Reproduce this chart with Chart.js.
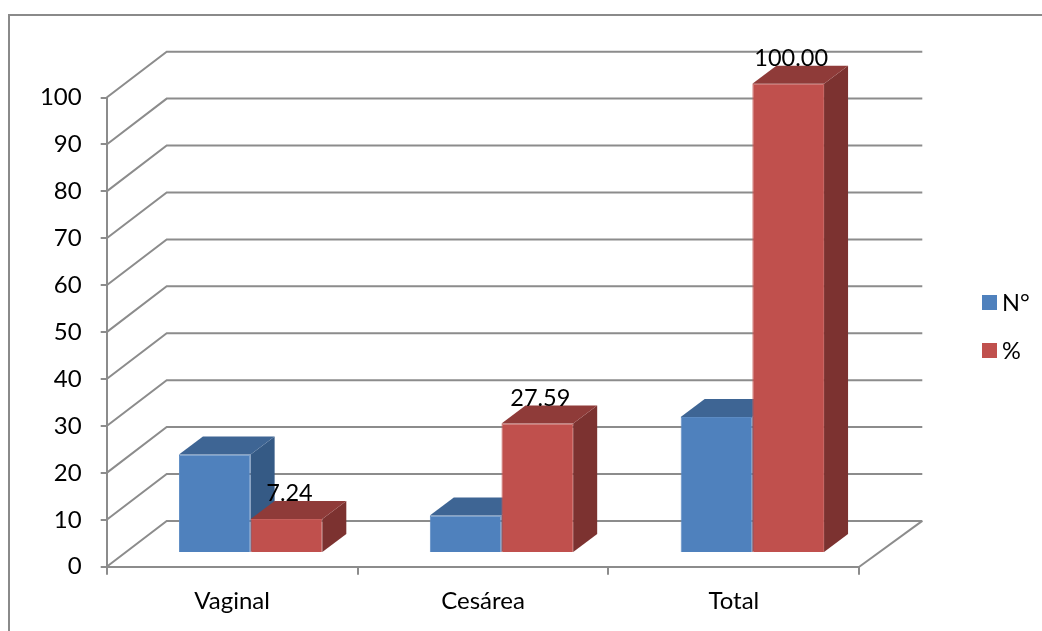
<!DOCTYPE html>
<html>
<head>
<meta charset="utf-8">
<style>
  html, body { margin: 0; padding: 0; background: #fff; }
  #wrap { width: 1042px; height: 631px; }
</style>
<script src="https://cdn.jsdelivr.net/npm/chart.js@4"></script>
</head>
<body>
<div id="wrap"><canvas id="chart"></canvas></div>
<script>
const categories = ["Vaginal", "Cesárea", "Total"];
const seriesNames = ["N°", "%"];
const nValues = [21, 8, 29];
const pctValues = [7.24, 27.59, 100];
const pctLabels = ["7.24", "27.59", "100.00"];

const FONT = "Lato, 'Open Sans', sans-serif";
const GRID = "#8c8c8c";

// 3d look: bars sit inside the box, wall is further back
const BAR_DX = 18.5, BAR_DY = -13.7;
const SIDE_DX = 24, SIDE_DY = -18;
const WALL_DX = 60, WALL_DY = -45.8;

const shades = [
  { side: "#355A85", top: "#3E6594" },
  { side: "#7C3230", top: "#8F3B39" }
];

const box3d = {
  id: "box3d",
  beforeDraw(chart) {
    const { ctx } = chart;
    ctx.save();
    ctx.strokeStyle = "#8a8a8a";
    ctx.lineWidth = 2;
    ctx.beginPath();
    ctx.moveTo(9, 631);
    ctx.lineTo(9, 15);
    ctx.lineTo(1042, 15);
    ctx.stroke();
    ctx.restore();
  },
  beforeDatasetsDraw(chart) {
    const { ctx, chartArea: a, scales: { y } } = chart;
    ctx.save();
    ctx.strokeStyle = GRID;
    ctx.lineWidth = 2;
    y.ticks.forEach((t) => {
      const py = y.getPixelForValue(t.value);
      ctx.beginPath();
      ctx.moveTo(a.left, py);
      ctx.lineTo(a.left + WALL_DX, py + WALL_DY);
      ctx.lineTo(a.right + WALL_DX + 3, py + WALL_DY);
      ctx.stroke();
    });
    const y0 = y.getPixelForValue(0);
    ctx.beginPath();
    ctx.moveTo(a.right, y0);
    ctx.lineTo(a.right + WALL_DX + 3, y0 + WALL_DY);
    ctx.stroke();
    ctx.restore();
  },
  // the library paints the right-hand series first, here the left one has to go under it
  beforeDatasetDraw() {
    return false;
  },
  afterDatasetsDraw(chart) {
    const { ctx } = chart;
    ctx.save();
    ctx.translate(BAR_DX, BAR_DY);
    [0, 1].forEach((idx) => {
      const c = shades[idx];
      chart.getDatasetMeta(idx).data.forEach((bar) => {
        bar.draw(ctx);
        const l = bar.x - bar.width / 2, r = bar.x + bar.width / 2;
        ctx.fillStyle = c.side;
        ctx.beginPath();
        ctx.moveTo(r, bar.y);
        ctx.lineTo(r + SIDE_DX, bar.y + SIDE_DY);
        ctx.lineTo(r + SIDE_DX, bar.base + SIDE_DY);
        ctx.lineTo(r, bar.base);
        ctx.closePath();
        ctx.fill();
        ctx.fillStyle = c.top;
        ctx.beginPath();
        ctx.moveTo(l, bar.y);
        ctx.lineTo(l + SIDE_DX, bar.y + SIDE_DY);
        ctx.lineTo(r + SIDE_DX, bar.y + SIDE_DY);
        ctx.lineTo(r, bar.y);
        ctx.closePath();
        ctx.fill();
      });
    });
    ctx.restore();

    ctx.save();
    ctx.font = "23.5px " + FONT;
    ctx.fillStyle = "#000";
    ctx.textAlign = "center";
    ctx.textBaseline = "alphabetic";
    chart.getDatasetMeta(1).data.forEach((bar, i) => {
      ctx.fillText(pctLabels[i], bar.x + BAR_DX + 3, bar.y + BAR_DY + SIDE_DY);
    });
    // legend
    ctx.textAlign = "left";
    chart.data.datasets.forEach((ds, i) => {
      const top = 295 + i * 48;
      ctx.fillStyle = ds.backgroundColor;
      ctx.fillRect(982, top, 15, 15);
      ctx.fillStyle = "#000";
      ctx.fillText(ds.label, 1002, top + 16);
    });
    ctx.restore();
  }
};

new Chart(document.getElementById("chart"), {
  type: "bar",
  data: {
    labels: categories,
    datasets: [
      { label: seriesNames[0], data: nValues, backgroundColor: "#4F81BD", borderColor: "#5C8BC3", borderWidth: 1 },
      { label: seriesNames[1], data: pctValues, backgroundColor: "#C0504D", borderColor: "#C65E5B", borderWidth: 1 }
    ]
  },
  options: {
    responsive: true,
    maintainAspectRatio: false,
    animation: false,
    layout: { padding: { top: 97.5, right: 182.7, left: 0, bottom: 0 } },
    datasets: { bar: { categoryPercentage: 0.5715, barPercentage: 1 } },
    plugins: { legend: { display: false }, tooltip: { enabled: false } },
    scales: {
      x: {
        afterFit: (s) => { s.height = 64.3; },
        grid: { drawOnChartArea: false, drawTicks: true, tickLength: 8, color: GRID, lineWidth: 2 },
        border: { color: GRID, width: 2 },
        ticks: { color: "#000", font: { family: FONT, size: 24 }, padding: 12, maxRotation: 0 }
      },
      y: {
        min: 0,
        max: 100,
        afterFit: (s) => { s.width = 106.7; },
        grid: { drawOnChartArea: false, drawTicks: true, tickLength: 6, color: GRID, lineWidth: 2 },
        border: { color: GRID, width: 2 },
        ticks: { stepSize: 10, color: "#000", font: { family: FONT, size: 24 }, padding: 19 }
      }
    }
  },
  plugins: [box3d]
});
</script>
</body>
</html>
